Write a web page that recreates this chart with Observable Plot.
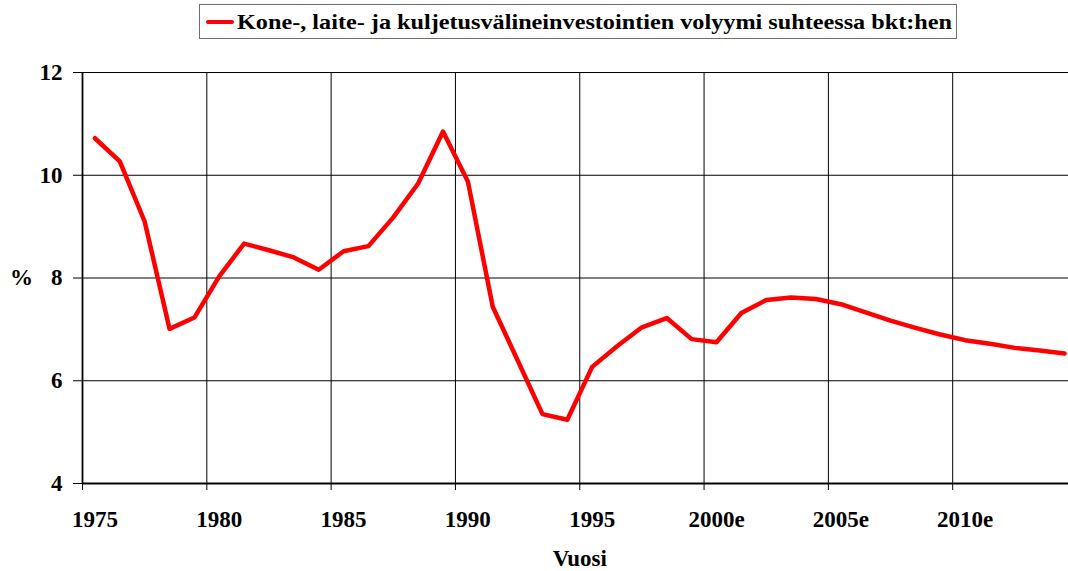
<!DOCTYPE html>
<html>
<head>
<meta charset="utf-8">
<script src="https://cdn.jsdelivr.net/npm/d3@7"></script>
<script src="https://cdn.jsdelivr.net/npm/@observablehq/plot@0.6"></script>
<style>
  html, body { margin: 0; padding: 0; background: #fff; overflow: hidden; width: 1068px; height: 571px; }
  #legendRow { position: relative; height: 42px; }
  #legend {
    position: absolute; left: 199px; top: 4px; width: 756px; height: 33px;
    border: 1.5px solid #6e6e6e; box-sizing: content-box;
    font-family: "Liberation Serif", "Times New Roman", serif; font-weight: bold;
    font-size: 22px; color: #000; white-space: nowrap;
  }
  #legend .sw { position: absolute; left: 6px; top: 14.5px; width: 28px; height: 4.5px; background: #ff0000; border-radius: 2px; }
  #legend .tx { position: absolute; left: 37px; top: 3px; line-height: 27px; transform-origin: 0 50%; display: inline-block; }
  #chart svg { display: block; overflow: hidden; }
  #chart svg text { font-family: "Liberation Serif", "Times New Roman", serif !important; font-weight: bold; }
</style>
</head>
<body>
<div id="legendRow"><div id="legend"><span class="sw"></span><span class="tx" id="legendText"></span></div></div>
<div id="chart"></div>
<script>
const seriesName = "Kone-, laite- ja kuljetusvälineinvestointien volyymi suhteessa bkt:hen";
const years = d3.range(1975, 2015);
const values = [
  10.72, 10.27, 9.10, 7.01, 7.23, 8.03, 8.67, 8.54, 8.40, 8.16,
  8.52, 8.62, 9.18, 9.84, 10.85, 9.88, 7.44, 6.40, 5.35, 5.24,
  6.27, 6.67, 7.04, 7.22, 6.81, 6.75, 7.32, 7.57, 7.62, 7.59,
  7.49, 7.33, 7.17, 7.03, 6.90, 6.79, 6.72, 6.64, 6.59, 6.53
];
const gridYears = [1975, 1980, 1985, 1990, 1995, 2000, 2005, 2010, 2015];
const tickYears = [1975, 1980, 1985, 1990, 1995, 2000, 2005, 2010];
const tickLabels = ["1975", "1980", "1985", "1990", "1995", "2000e", "2005e", "2010e"];
const yTicks = [4, 6, 8, 10, 12];
const xTitle = "Vuosi";
const yTitle = "%";

const lt = document.getElementById("legendText");
lt.textContent = seriesName;
// stretch the legend text to the width it has in the original
const w = lt.getBoundingClientRect().width;
if (w > 0) lt.style.transform = `scaleX(${715 / w})`;

// categories are centred between the year boundaries
const data = years.map((y, i) => ({x: y + 0.5, v: values[i]}));
const labelMap = new Map(tickYears.map((y, i) => [y + 0.5, tickLabels[i]]));

const font = "'Liberation Serif', 'Times New Roman', serif";

const chart = Plot.plot({
  width: 1068,
  height: 529,
  marginLeft: 82,
  marginRight: -8.5,
  marginTop: 30,
  marginBottom: 88,
  style: {fontFamily: font, fontWeight: "bold", color: "#000", background: "#fff"},
  x: {domain: [1975, 2015], axis: null},
  y: {domain: [4, 12], axis: null},
  marks: [
    Plot.ruleX(gridYears, {stroke: "#000", strokeWidth: 1}),
    Plot.ruleY(yTicks.filter(d => d > 4), {stroke: "#000", strokeWidth: 1}),
    Plot.ruleY([4], {stroke: "#000", strokeWidth: 2.2}),
    Plot.ruleX([1975], {stroke: "#000", strokeWidth: 1.8}),
    Plot.axisY(yTicks, {anchor: "left", tickSize: 9, tickPadding: 11, tickFormat: d => String(d), fontFamily: font, fontSize: 23, fontWeight: "bold", label: null, stroke: "#000"}),
    Plot.axisX(gridYears, {anchor: "bottom", tickSize: 7, tickFormat: () => "", label: null, stroke: "#000"}),
    Plot.axisX([...labelMap.keys()], {anchor: "bottom", tickSize: 0, tickPadding: 27, tickFormat: d => labelMap.get(d), fontFamily: font, fontSize: 23, fontWeight: "bold", label: null}),
    Plot.text([yTitle], {frameAnchor: "left", y: () => 8, dx: -61, textAnchor: "middle", fontFamily: font, fontSize: 23, fontWeight: "bold"}),
    Plot.text([xTitle], {frameAnchor: "bottom", dy: 75, textAnchor: "middle", lineAnchor: "middle", fontFamily: font, fontSize: 23, fontWeight: "bold"}),
    Plot.line(data, {x: "x", y: "v", stroke: "#ff0000", strokeWidth: 4.5, strokeLinejoin: "round", strokeLinecap: "round"})
  ]
});
document.getElementById("chart").appendChild(chart);
</script>
</body>
</html>
